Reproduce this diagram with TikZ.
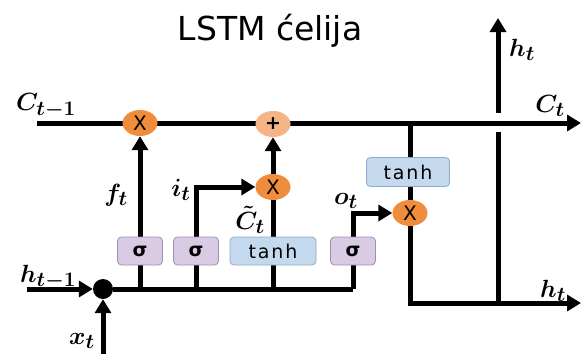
\documentclass[tikz,border=0pt]{standalone}
\usepackage{fontspec}
\newfontfamily\dejavu{DejaVu Sans}
\newfontfamily\dejavuwide[LetterSpace=10]{DejaVu Sans}
\usetikzlibrary{arrows.meta,shapes.geometric,backgrounds}
\definecolor{sigfill}{HTML}{D8CBE3}
\definecolor{sigdraw}{HTML}{9E90B4}
\definecolor{tanhfill}{HTML}{C5D9EE}
\definecolor{tanhdraw}{HTML}{8EAACB}
\definecolor{mulfill}{HTML}{EF8D3C}
\definecolor{plusfill}{HTML}{F5B485}
\begin{document}
\begin{tikzpicture}[x=1pt,y=-1pt,
  wire/.style={line width=5pt},
  arr/.style={wire,-{Triangle[length=14pt,width=16pt]}},
  mult/.style={ellipse,fill=mulfill,minimum width=35pt,minimum height=26pt,inner sep=0pt,font=\dejavu\fontsize{20}{20}\selectfont},
  plusop/.style={mult,fill=plusfill,font=\dejavu\bfseries\fontsize{19}{19}\selectfont},
  gatebox/.style={rounded corners=4pt,line width=0.8pt,minimum height=28pt,inner sep=0pt},
  sig/.style={gatebox,draw=sigdraw,fill=sigfill,minimum width=45pt,font=\dejavu\bfseries\fontsize{19}{19}\selectfont},
  tanhbox/.style={gatebox,draw=tanhdraw,fill=tanhfill,minimum width=86pt,font=\dejavuwide\fontsize{19}{19}\selectfont},
  lbl/.style={inner sep=0pt,font=\Huge\boldmath}]
\useasboundingbox (0,0) rectangle (581,354);
% title
\node[anchor=base,inner sep=0pt,font=\dejavu\fontsize{33}{33}\selectfont] (title) at (270,40) {LSTM ćelija};
% operators and gates
\node[mult] (m1) at (140,123) {X};
\node[plusop] (p) at (273,124) {+};
\node[mult] (m2) at (273,187) {X};
\node[mult] (m3) at (410,213) {X};
\node[sig] (s1) at (140,251) {σ};
\node[sig] (s2) at (196,251) {σ};
\node[tanhbox] (t1) at (273,251) {tanh};
\node[sig] (s3) at (353,251) {σ};
\node[tanhbox,minimum width=83pt,minimum height=29pt] (t2) at (408,172) {tanh};
\node[circle,fill=black,minimum size=20pt,inner sep=0pt] (dot) at (103,289) {};
% coordinates
\coordinate (cin) at (37,123);
\coordinate (cout) at (581,123);
\coordinate (hin) at (27,289);
\coordinate (xin) at (103,354);
\coordinate (bend) at (353,289);
\coordinate (hout) at (581,303);
\coordinate (htop) at (498,18);
\coordinate (gaplo) at (498,132);
\coordinate (gaphi) at (498,113);
% wires
\begin{scope}[on background layer]
\draw[arr] (cin) -- (cout);
\draw[arr] (hin) -- (dot);
\draw[arr] (xin) -- (dot);
\draw[wire] (dot) -- (bend);
\draw[arr] (s1 |- bend) -- (m1);
\draw[arr] (s2 |- bend) -- (s2 |- m2) -- (m2);
\draw[wire] (t1 |- bend) -- (m2);
\draw[arr] (m2) -- (p);
\draw[arr] (bend) -- (bend |- m3) -- (m3);
\draw[arr] (m3 |- cout) -- (m3 |- hout) -- (hout);
\draw[wire] (htop |- hout) -- (gaplo);
\draw[arr] (gaphi) -- (htop);
\end{scope}
% labels
\node[lbl] (lc0) at (46,106) {$C_{t-1}$};
\node[lbl] (lf) at (116,195) {$f_t$};
\node[lbl] (li) at (181,190) {$i_t$};
\node[lbl] (lct) at (250,220) {$\tilde{C}_t$};
\node[lbl] (lh0) at (48,277) {$h_{t-1}$};
\node[lbl] (lx) at (82,341) {$x_t$};
\node[lbl] (lo) at (346,201) {$o_t$};
\node[lbl] (lht) at (522,50) {$h_t$};
\node[lbl] (lc) at (550,106) {$C_t$};
\node[lbl] (lhb) at (553,291) {$h_t$};
\end{tikzpicture}
\end{document}
